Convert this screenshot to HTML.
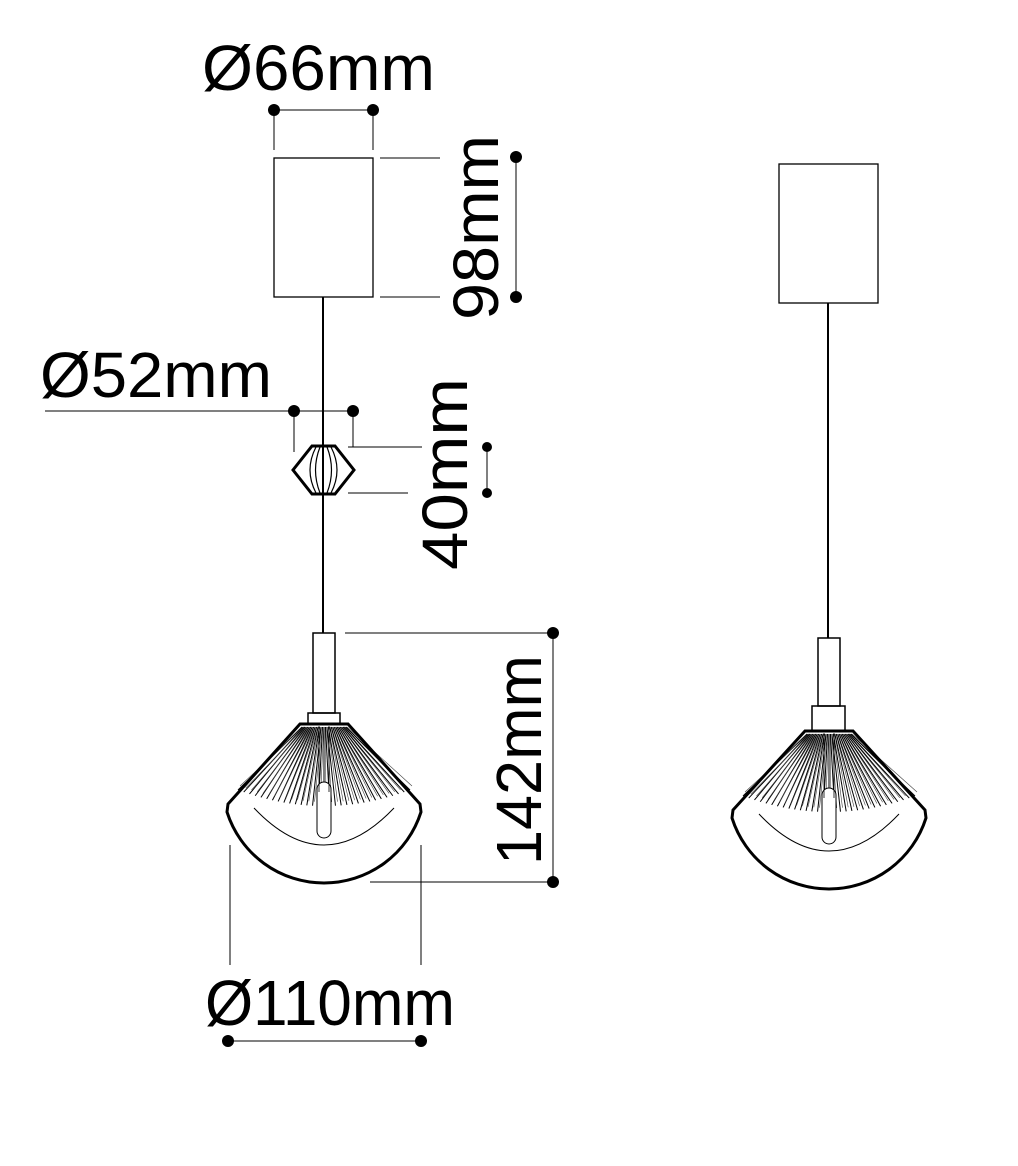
<!DOCTYPE html>
<html><head><meta charset="utf-8"><style>html,body{margin:0;padding:0;background:#fff}svg{display:block}text{font-family:"Liberation Sans",sans-serif;font-size:64px;fill:#000}</style></head>
<body>
<svg id="s" width="1018" height="1166" viewBox="0 0 1018 1166" xmlns="http://www.w3.org/2000/svg">
<g fill="none" stroke="#000">
<rect x="274" y="158" width="99" height="139" stroke-width="1.3"/>
<line x1="323" y1="297" x2="323" y2="633" stroke-width="2"/>
<rect x="313" y="633" width="22" height="80" stroke-width="1.5"/>
<rect x="308" y="713" width="32" height="11" stroke-width="1.5"/>
<polygon points="312,446 335,446 354,470 335,494 312,494 293,470" stroke-width="3"/>
<path d="M316,447 Q304,470 316,493 M320,447 Q311,470 320,493 M327,447 Q336,470 327,493 M331,447 Q343,470 331,493 M323,447 L323,493" stroke-width="1.2"/>
<rect x="779" y="164" width="99" height="139" stroke-width="1.3"/>
<line x1="828" y1="303" x2="828" y2="638" stroke-width="2"/>
<rect x="818" y="638" width="22" height="68" stroke-width="1.5"/>
<rect x="812" y="706" width="33" height="25" stroke-width="1.5"/>
<g stroke-width="1">
<line x1="274" y1="110" x2="373" y2="110"/><line x1="274" y1="110" x2="274" y2="150"/><line x1="373" y1="110" x2="373" y2="150"/>
<line x1="380" y1="158" x2="440" y2="158"/><line x1="380" y1="297" x2="440" y2="297"/><line x1="516" y1="157" x2="516" y2="297"/>
<line x1="45" y1="411" x2="353" y2="411"/><line x1="294" y1="411" x2="294" y2="452"/><line x1="353" y1="411" x2="353" y2="447"/>
<line x1="348" y1="447" x2="422" y2="447"/><line x1="348" y1="493" x2="408" y2="493"/><line x1="487" y1="447" x2="487" y2="493"/>
<line x1="345" y1="633" x2="553" y2="633"/><line x1="370" y1="882" x2="553" y2="882"/><line x1="553" y1="633" x2="553" y2="882"/>
<line x1="230" y1="845" x2="230" y2="965"/><line x1="421" y1="845" x2="421" y2="965"/><line x1="228" y1="1041" x2="421" y2="1041"/>
</g>
</g>
<g fill="#000">
<circle cx="274" cy="110" r="6"/><circle cx="373" cy="110" r="6"/>
<circle cx="516" cy="157" r="6"/><circle cx="516" cy="297" r="6"/>
<circle cx="294" cy="411" r="6"/><circle cx="353" cy="411" r="6"/>
<circle cx="487" cy="447" r="5"/><circle cx="487" cy="493" r="5"/>
<circle cx="553" cy="633" r="6"/><circle cx="553" cy="882" r="6"/>
<circle cx="228" cy="1041" r="6"/><circle cx="421" cy="1041" r="6"/>
</g>
<text x="202" y="90" textLength="233" lengthAdjust="spacingAndGlyphs">Ø66mm</text>
<text x="40" y="397" textLength="232" lengthAdjust="spacingAndGlyphs">Ø52mm</text>
<text x="205" y="1025" textLength="250" lengthAdjust="spacingAndGlyphs">Ø110mm</text>
<text transform="translate(498,320) rotate(-90)" textLength="185" lengthAdjust="spacingAndGlyphs">98mm</text>
<text transform="translate(467,570) rotate(-90)" textLength="192" lengthAdjust="spacingAndGlyphs">40mm</text>
<text transform="translate(541,865) rotate(-90)" textLength="210" lengthAdjust="spacingAndGlyphs">142mm</text>
<g id="shades"></g>
</svg>
<script>
function shade(cx,T,S,B){
  var g='';
  var r=((97*97)+(B-S)*(B-S))/(2*(B-S));
  g+='<path d="M'+(cx-70)+','+(S-4)+' Q'+cx+','+(S+70)+' '+(cx+70)+','+(S-4)+'" fill="none" stroke="#000" stroke-width="1"/>';
  var n=30;
  for(var i=0;i<=n;i++){
    var t=i/n; var a=(t-0.5);
    var x1=cx+a*44, y1=T+3;
    var x2=cx+a*172, y2=(S-6)-4*a*a*16;
    g+='<line x1="'+x1+'" y1="'+y1+'" x2="'+x2+'" y2="'+y2+'" stroke="#000" stroke-width="1"/>';
    g+='<line x1="'+(x1+1.2)+'" y1="'+y1+'" x2="'+(x2+2)+'" y2="'+(y2-4)+'" stroke="#444" stroke-width="0.6"/>';
  }
  g+='<path d="M'+(cx-24)+','+T+' L'+(cx+24)+','+T+' L'+(cx+96)+','+(S-8)+' L'+(cx+97)+','+S+' A'+r+','+r+' 0 0 1 '+(cx-97)+','+S+' L'+(cx-96)+','+(S-8)+' Z" fill="none" stroke="#000" stroke-width="3"/>';
  g+='<rect x="'+(cx-7)+'" y="'+(S-30)+'" width="14" height="56" rx="7" fill="#fff" stroke="#000" stroke-width="1"/>';
  g+='<line x1="'+(cx-5)+'" y1="'+(T+2)+'" x2="'+(cx-5)+'" y2="'+(S-20)+'" stroke="#000" stroke-width="0.8"/>';
  g+='<line x1="'+(cx+5)+'" y1="'+(T+2)+'" x2="'+(cx+5)+'" y2="'+(S-20)+'" stroke="#000" stroke-width="0.8"/>';
  return g;
}
document.getElementById('shades').innerHTML=shade(324,724,812,883)+shade(829,731,818,889);
</script>
</body></html>
